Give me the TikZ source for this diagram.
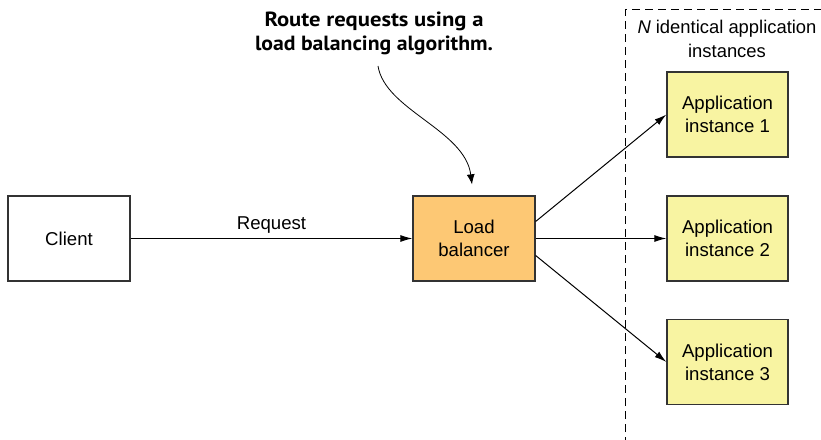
\documentclass[tikz,border=0pt]{standalone}
\usepackage{fontspec}
\usepackage{graphicx}
\setmainfont{Liberation Sans}
\newfontfamily\notefont{PT Sans}
\usetikzlibrary{arrows.meta}
\definecolor{lbfill}{RGB}{253,200,116}
\definecolor{appfill}{RGB}{248,244,162}
\definecolor{edge}{RGB}{51,51,51}
\tikzset{
  box/.style={draw=edge, line width=1.3bp, minimum width=122bp, minimum height=85bp,
    inner sep=0pt, align=center, font=\fontsize{18.6bp}{23bp}\selectfont},
  conn/.style={line width=1bp, -{Latex[length=12bp,width=7bp]}},
}
\begin{document}
\begin{tikzpicture}[x=1bp,y=-1bp]
\useasboundingbox (0,0) rectangle (821,440);
\node[box] (client) at (69,238.5) {Client};
\node[box, fill=lbfill] (lb) at (474,238.5) {Load\\balancer};
\node[box, fill=appfill, minimum width=121bp] (app1) at (727.5,114.5) {Application\\instance 1};
\node[box, fill=appfill, minimum width=121bp] (app2) at (727.5,238.5) {Application\\instance 2};
\node[box, fill=appfill, minimum width=121bp] (app3) at (727.5,362) {Application\\instance 3};
\draw[dashed, line width=1bp, dash pattern=on 8bp off 5bp] (625,445) -- (625,10) -- (830,10);
\node[align=center, font=\fontsize{18.4bp}{24bp}\selectfont] (nlabel) at (727,39) {\textit{N} identical application\\instances};
\node[align=center, inner sep=0pt, font=\notefont\bfseries\fontsize{20.5bp}{24bp}\selectfont] (note) at (374,33)
  {\resizebox{219bp}{\height}{Route requests using a}\\\resizebox{238bp}{\height}{load balancing algorithm.}};
\draw[conn] (client) -- node[above, font=\fontsize{18.6bp}{23bp}\selectfont, inner sep=5bp] (req) {Request} (lb);
\draw[conn] ([yshift=17bp]lb.east) -- (app1.west);
\draw[conn] (lb.east) -- (app2.west);
\draw[conn] ([yshift=-17bp]lb.east) -- (app3.west);
\coordinate (nstart) at (378,66);
\coordinate (ntip) at ([xshift=-2bp,yshift=11bp]lb.north);
\draw[line width=0.8bp, -{Latex[length=10bp,width=8bp]}] (nstart) .. controls (385,110) and (465,130) .. (ntip);
\end{tikzpicture}
\end{document}
